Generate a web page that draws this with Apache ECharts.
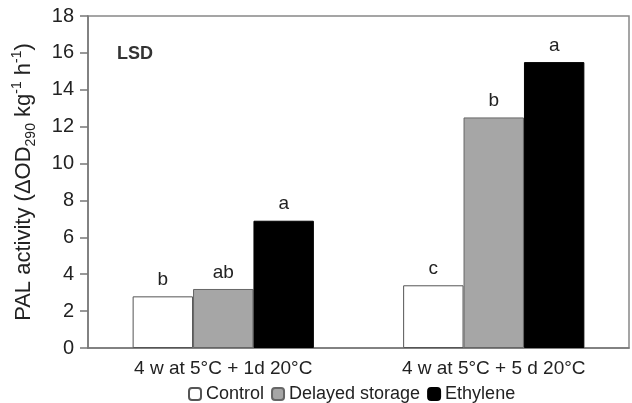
<!DOCTYPE html>
<html>
<head>
<meta charset="utf-8">
<script src="https://cdn.jsdelivr.net/npm/echarts@6/dist/echarts.min.js"></script>
<style>
html, body { margin: 0; padding: 0; background: #fff; }
#chart { width: 632px; height: 403px; }
</style>
</head>
<body>
<div id="chart"></div>
<script>
// data
var categories = ['4 w at 5°C + 1d 20°C', '4 w at 5°C + 5 d 20°C'];
var control = [2.8, 3.4];
var delayed = [3.2, 12.5];
var ethylene = [6.9, 15.5];
var controlLetters = ['b', 'c'];
var delayedLetters = ['ab', 'b'];
var ethyleneLetters = ['a', 'a'];

var font = 'Liberation Sans, Arial, sans-serif';
var myChart = echarts.init(document.getElementById('chart'));

function letterLabel(letters) {
    return {
        show: true,
        position: 'top',
        distance: 7,
        fontFamily: font,
        fontSize: 19,
        color: '#222',
        formatter: function (p) { return letters[p.dataIndex]; }
    };
}

myChart.setOption({
    backgroundColor: '#fff',
    animation: false,
    textStyle: { fontFamily: font },
    title: {
        text: 'LSD',
        left: 112,
        top: 40,
        textStyle: { fontFamily: font, fontSize: 18, fontWeight: 'bold', color: '#333' }
    },
    grid: {
        left: 88, right: 3, top: 16, bottom: 55,
        show: true,
        borderColor: '#888',
        borderWidth: 1.5,
        containLabel: false,
        outerBoundsMode: 'none'
    },
    legend: {
        top: 380,
        left: 183,
        itemWidth: 12,
        itemHeight: 12,
        itemGap: 7,
        textStyle: { fontFamily: font, fontSize: 18, color: '#222' },
        data: ['Control', 'Delayed storage', 'Ethylene']
    },
    xAxis: {
        type: 'category',
        data: categories,
        axisLine: { lineStyle: { color: '#777', width: 1.5 } },
        axisTick: { show: false },
        axisLabel: { fontFamily: font, fontSize: 19, color: '#222', margin: 11 }
    },
    yAxis: {
        type: 'value',
        min: 0,
        max: 18,
        interval: 2,
        splitLine: { show: false },
        axisLine: { show: true, lineStyle: { color: '#777', width: 1.5 } },
        axisTick: { show: true, length: 8, lineStyle: { color: '#777', width: 1.5 } },
        axisLabel: { fontFamily: font, fontSize: 20, color: '#222', margin: 14 },
        name: '{a|PAL activity (ΔOD}{sub|290}{a| kg}{sup|-1}{a| h}{sup|-1}{a|)}',
        nameLocation: 'middle',
        nameRotate: 90,
        nameGap: 50,
        nameTextStyle: {
            rich: {
                a: { fontFamily: font, fontSize: 22, color: '#222', lineHeight: 28 },
                sub: { fontFamily: font, fontSize: 14, color: '#222', lineHeight: 14, verticalAlign: 'bottom' },
                sup: { fontFamily: font, fontSize: 14, color: '#222', lineHeight: 14, verticalAlign: 'top' }
            }
        }
    },
    series: [
        {
            name: 'Control',
            type: 'bar',
            data: control,
            barGap: '0%',
            barCategoryGap: '33%',
            itemStyle: { color: '#fff', borderColor: '#555', borderWidth: 1 },
            label: letterLabel(controlLetters)
        },
        {
            name: 'Delayed storage',
            type: 'bar',
            data: delayed,
            itemStyle: { color: '#a6a6a6', borderColor: '#666', borderWidth: 1 },
            label: letterLabel(delayedLetters)
        },
        {
            name: 'Ethylene',
            type: 'bar',
            data: ethylene,
            itemStyle: { color: '#000', borderColor: '#000', borderWidth: 1 },
            label: letterLabel(ethyleneLetters)
        }
    ]
});
</script>
</body>
</html>
